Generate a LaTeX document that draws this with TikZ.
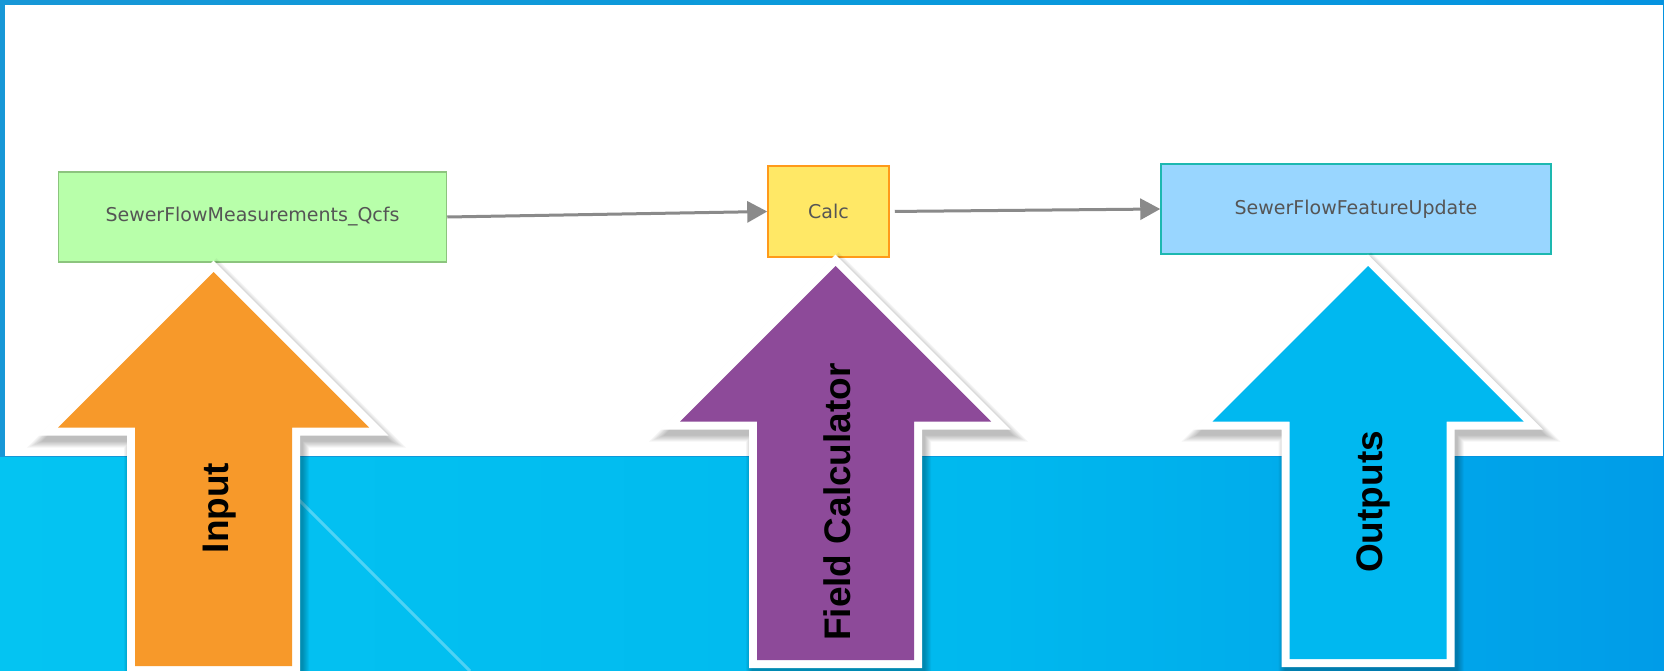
\documentclass[tikz,border=0pt]{standalone}
\usepackage{fontspec}
\setmainfont{Liberation Sans}
\newfontfamily\dejavu{DejaVu Sans}
\usetikzlibrary{arrows.meta}
\definecolor{bgA}{HTML}{12A8E2}
\definecolor{bgB}{HTML}{04C4F2}
\definecolor{bgC}{HTML}{00B8EE}
\definecolor{bgD}{HTML}{009CE8}
\definecolor{bgE}{HTML}{0088E2}
\definecolor{topA}{HTML}{2494D2}
\definecolor{topB}{HTML}{0A9ADB}
\definecolor{topC}{HTML}{008CE6}
\definecolor{ingreen}{HTML}{B8FFAA}
\definecolor{ingreenb}{HTML}{8CC47E}
\definecolor{calcfill}{HTML}{FFE866}
\definecolor{calcb}{HTML}{FF9A1A}
\definecolor{outfill}{HTML}{99D6FF}
\definecolor{outb}{HTML}{1DB8B0}
\definecolor{conngray}{HTML}{8A8A8A}
\definecolor{txtgray}{HTML}{555555}
\definecolor{arrOrange}{HTML}{F7992A}
\definecolor{arrPurple}{HTML}{8D4A99}
\definecolor{arrCyan}{HTML}{00B8F0}
\pgfdeclarehorizontalshading{bgshade}{100bp}{color(0bp)=(bgA); color(25bp)=(bgB); color(55bp)=(bgC); color(75bp)=(bgD); color(100bp)=(bgE)}
\pgfdeclarehorizontalshading{topshade}{100bp}{color(0bp)=(topA); color(50bp)=(topB); color(100bp)=(topC)}
\tikzset{
  model/.style={draw, line width=1.5, text=txtgray, inner sep=0, font=\dejavu\fontsize{19}{22}\selectfont},
  conn/.style={draw=conngray, line width=3, -{Triangle[length=20,width=21]}},
  arrlabel/.style={rotate=90, anchor=base, text=black, font=\fontsize{37}{44}\selectfont\bfseries},
}
\newcommand\BigArr[4]{%
  \foreach \w in {28,26,24,22,20,18,16}{%
    \draw[black, opacity=0.04, line width=\w, line join=miter, shift={(3,6)}]
      (#1,#2) -- (#1+155.5,#2+155.5) -- (#1+78.5,#2+155.5) -- (#1+78.5,#3)
      -- (#1-78.5,#3) -- (#1-78.5,#2+155.5) -- (#1-155.5,#2+155.5) -- cycle;}
  \draw[white, line width=16, line join=miter]
      (#1,#2) -- (#1+155.5,#2+155.5) -- (#1+78.5,#2+155.5) -- (#1+78.5,#3)
      -- (#1-78.5,#3) -- (#1-78.5,#2+155.5) -- (#1-155.5,#2+155.5) -- cycle;
  \fill[#4]
      (#1,#2) -- (#1+155.5,#2+155.5) -- (#1+78.5,#2+155.5) -- (#1+78.5,#3)
      -- (#1-78.5,#3) -- (#1-78.5,#2+155.5) -- (#1-155.5,#2+155.5) -- cycle;
}
\begin{document}
\begin{tikzpicture}[x=1pt,y=-1pt]
\useasboundingbox (0,0) rectangle (1664,671);
\shade[shading=bgshade] (0,0) rectangle (1664,671);
\shade[shading=topshade] (0,0) rectangle (1664,456);
\draw[white, opacity=0.3, line width=3] (255,456) -- (470,671);
\fill[white] (5,5) rectangle (1663,456);

\node[model, fill=ingreen, draw=ingreenb, minimum width=388, minimum height=90] (meas) at (252.5,217) {SewerFlowMeasurements\_Qcfs};
\node[model, fill=calcfill, draw=calcb, minimum width=121, minimum height=91] (calc) at (828.5,211.5) {Calc};
\node[model, fill=outfill, draw=outb, minimum width=390, minimum height=90] (upd) at (1356,209) {SewerFlowFeatureUpdate};

\draw[conn] (meas.east) -- (calc.west);
\draw[conn, shorten <=5] (calc.east) -- (upd.west);

\BigArr{213.5}{272}{666}{arrOrange}
\BigArr{835.5}{266}{660}{arrPurple}
\BigArr{1368}{266}{659}{arrCyan}

\node[arrlabel] (linput) at (228,508) {Input};
\node[arrlabel] (lfield) at (850,502) {Field Calculator};
\node[arrlabel] (lout) at (1382,502) {Outputs};
\end{tikzpicture}
\end{document}
